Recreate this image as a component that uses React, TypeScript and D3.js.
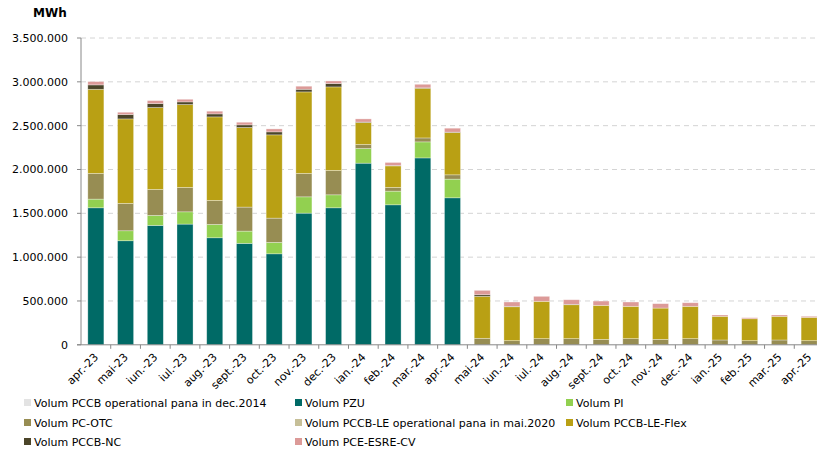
import React from 'react'
import * as d3 from 'd3'

const WIDTH = 817
const HEIGHT = 452
const MARGIN = { top: 38, left: 81, bottom: 107 }
const PLOT_RIGHT = 824

const months = [
  'apr.-23', 'mai-23', 'iun.-23', 'iul.-23', 'aug.-23', 'sept.-23', 'oct.-23',
  'nov.-23', 'dec.-23', 'ian.-24', 'feb.-24', 'mar.-24', 'apr.-24', 'mai-24',
  'iun.-24', 'iul.-24', 'aug.-24', 'sept.-24', 'oct.-24', 'nov.-24', 'dec.-24',
  'ian.-25', 'feb.-25', 'mar.-25', 'apr.-25'
]

const seriesNames = [
  'Volum PCCB operational pana in dec.2014',
  'Volum PZU',
  'Volum PI',
  'Volum PC-OTC',
  'Volum PCCB-LE operational pana in mai.2020',
  'Volum PCCB-LE-Flex',
  'Volum PCCB-NC',
  'Volum PCE-ESRE-CV'
]

const seriesColors = ['#e3e3e3', '#006a66', '#92d050', '#978d53', '#c6bf98', '#b9a014', '#4b4529', '#dc9a98']

const pccbOld = [0, 0, 0, 0, 0, 0, 0, 0, 0, 0, 0, 0, 0, 0, 0, 0, 0, 0, 0, 0, 0, 0, 0, 0, 0]
const pzu = [1563000, 1187000, 1362000, 1377000, 1221000, 1157000, 1038000, 1502000, 1563000, 2072000, 1597000, 2132000, 1677000, 0, 0, 0, 0, 0, 0, 0, 0, 0, 0, 0, 0]
const pi = [99000, 114000, 114000, 140000, 152000, 140000, 130000, 186000, 148000, 167000, 156000, 183000, 213000, 0, 0, 0, 0, 0, 0, 0, 0, 0, 0, 0, 0]
const pcOtc = [293000, 312000, 296000, 278000, 274000, 274000, 277000, 267000, 278000, 46000, 42000, 45000, 49000, 74000, 47000, 70000, 70000, 62000, 70000, 62000, 70000, 55000, 47000, 55000, 47000]
const pccbLeOld = [0, 0, 0, 0, 0, 0, 0, 0, 0, 0, 0, 0, 0, 0, 0, 0, 0, 0, 0, 0, 0, 0, 0, 0, 0]
const leFlex = [960000, 964000, 935000, 946000, 953000, 908000, 950000, 930000, 953000, 251000, 246000, 567000, 483000, 479000, 387000, 426000, 387000, 388000, 369000, 357000, 369000, 270000, 250000, 270000, 266000]
const pccbNc = [50000, 50000, 45000, 30000, 34000, 30000, 34000, 30000, 38000, 5000, 4000, 4000, 4000, 18000, 5000, 0, 5000, 0, 0, 0, 0, 0, 0, 0, 0]
const esreCv = [38000, 26000, 34000, 30000, 31000, 30000, 34000, 35000, 30000, 36000, 35000, 41000, 45000, 50000, 49000, 57000, 52000, 49000, 49000, 50000, 41000, 15000, 12000, 15000, 12000]

const yTicks = [0, 500000, 1000000, 1500000, 2000000, 2500000, 3000000, 3500000]

const allSeries = [pccbOld, pzu, pi, pcOtc, pccbLeOld, leFlex, pccbNc, esreCv]

const fmt = (v: number) => d3.format(',')(v).replace(/,/g, '.')

const rows = months.map((m, i) => {
  const r: Record<string, any> = { month: m }
  seriesNames.forEach((s, j) => (r[s] = allSeries[j][i]))
  return r
})

const legendCols = [24, 295, 566]
const legendRows = [403, 423, 442]
const FONT = 'DejaVu Sans, Verdana, sans-serif'

const App = () => {
  const x = d3.scaleBand().domain(months).range([MARGIN.left, PLOT_RIGHT]).paddingInner(0.46).paddingOuter(0.23)
  const y = d3.scaleLinear().domain([0, 3500000]).range([HEIGHT - MARGIN.bottom - 0.2, MARGIN.top])
  const stacked = d3.stack().keys(seriesNames)(rows as any)
  const step = x.step()
  const y0 = y(0)

  return (
    <svg width={WIDTH} height={HEIGHT} style={{ position: 'absolute', left: 0, top: 0, fontFamily: FONT }}>
      <text x={33} y={17} fontSize={12} fontWeight="bold" fill="#000">MWh</text>
      {yTicks.map(t => (
        <g key={t}>
          {t > 0 && (
            <line x1={MARGIN.left} x2={WIDTH} y1={y(t)} y2={y(t)} stroke="#d4d4d4" strokeDasharray="5,4" />
          )}
          <line x1={MARGIN.left - 4} x2={MARGIN.left} y1={y(t)} y2={y(t)} stroke="#888" />
          <text x={68} y={y(t) + 4} fontSize={11} textAnchor="end" fill="#000">{fmt(t)}</text>
        </g>
      ))}
      {stacked.map((layer, j) => (
        <g key={layer.key} fill={seriesColors[j]}>
          {layer.map((d, i) =>
            d[1] - d[0] > 0 ? (
              <rect
                key={i}
                x={x(months[i])}
                y={y(d[1])}
                width={x.bandwidth()}
                height={y(d[0]) - y(d[1])}
                stroke="rgba(255,255,255,0.45)"
                strokeWidth={0.7}
              />
            ) : null
          )}
        </g>
      ))}
      <line x1={MARGIN.left} x2={MARGIN.left} y1={MARGIN.top} y2={y0} stroke="#888" />
      <line x1={MARGIN.left - 4} x2={WIDTH} y1={y0} y2={y0} stroke="#888" />
      {months.map((m, i) => (
        <g key={m}>
          <line x1={MARGIN.left + step * (i + 1)} x2={MARGIN.left + step * (i + 1)} y1={y0} y2={y0 + 4} stroke="#888" />
          <text
            transform={`translate(${(x(m) as number) + x.bandwidth() / 2 + 3},${y0 + 13}) rotate(-45)`}
            fontSize={11}
            textAnchor="end"
            fill="#000"
          >
            {m}
          </text>
        </g>
      ))}
      {seriesNames.map((s, j) => {
        const cx = legendCols[j % 3]
        const cy = legendRows[Math.floor(j / 3)]
        return (
          <g key={s}>
            <rect x={cx} y={cy - 4} width={7} height={7} fill={seriesColors[j]} />
            <text x={cx + 10} y={cy + 4} fontSize={11} fill="#000">{s}</text>
          </g>
        )
      })}
    </svg>
  )
}

export default App
